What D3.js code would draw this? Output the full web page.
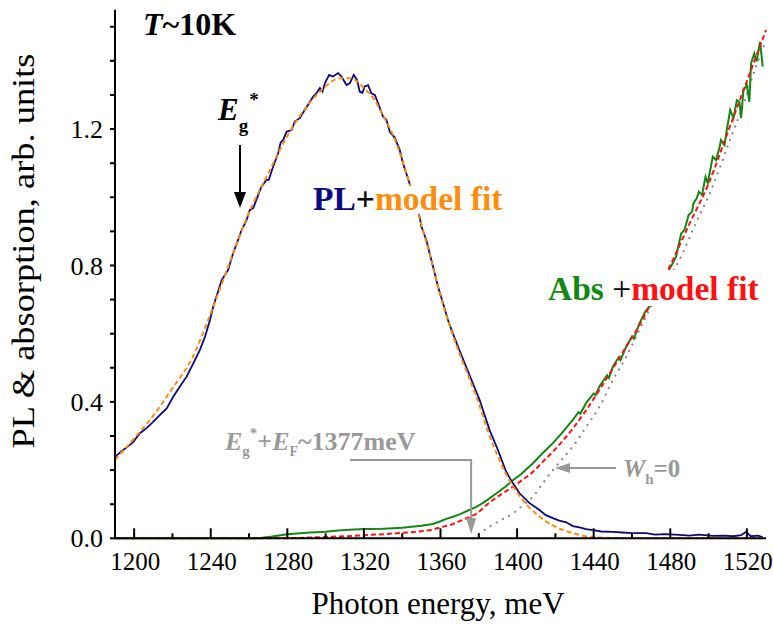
<!DOCTYPE html>
<html>
<head>
<meta charset="utf-8">
<script src="https://cdn.jsdelivr.net/npm/d3@7"></script>
<style>
  body { margin: 0; background: #fff; }
  svg { display: block; }
  svg text { font-family: "Times New Roman", "Liberation Serif", Tinos, "Nimbus Roman", Times, serif; }
</style>
</head>
<body>
<svg id="chart" width="773" height="628"></svg>
<script>
// PL spectrum (measured)
const plEnergy = [1190.0, 1194.3, 1197.8, 1199.6, 1203.0, 1206.5, 1210.0, 1213.5, 1217.0, 1220.4, 1223.9, 1227.4, 1230.9, 1234.3, 1237.0, 1239.6, 1241.3, 1243.5, 1245.7, 1249.1, 1251.7, 1254.3, 1256.1, 1258.7, 1260.4, 1262.2, 1264.8, 1266.5, 1269.1, 1270.3, 1272.6, 1275.2, 1276.5, 1277.8, 1279.6, 1282.2, 1283.9, 1286.5, 1289.1, 1291.8, 1293.5, 1295.2, 1297.0, 1298.4, 1299.6, 1301.8, 1303.9, 1306.5, 1308.3, 1310.9, 1312.6, 1314.7, 1316.4, 1317.8, 1319.2, 1320.4, 1322.2, 1323.9, 1325.7, 1327.4, 1330.0, 1331.8, 1333.5, 1336.1, 1338.7, 1340.4, 1343.0, 1346.0, 1349.1, 1350.0, 1352.6, 1354.3, 1356.1, 1358.7, 1361.3, 1363.9, 1366.5, 1370.0, 1375.2, 1380.4, 1385.6, 1390.0, 1394.3, 1397.3, 1401.3, 1406.5, 1411.7, 1415.0, 1418.7, 1422.0, 1425.7, 1429.1, 1432.6, 1436.0, 1439.6, 1444.0, 1450.0, 1455.0, 1460.0, 1467.4, 1472.0, 1477.0, 1484.8, 1490.0, 1495.0, 1502.2, 1508.0, 1513.0, 1517.0, 1519.6, 1522.0, 1526.0, 1528.3];
const plValue = [0.239, 0.259, 0.274, 0.283, 0.308, 0.323, 0.342, 0.362, 0.381, 0.415, 0.445, 0.474, 0.513, 0.552, 0.591, 0.640, 0.679, 0.718, 0.757, 0.787, 0.836, 0.875, 0.904, 0.933, 0.963, 0.968, 1.007, 1.031, 1.051, 1.051, 1.090, 1.129, 1.160, 1.168, 1.192, 1.197, 1.222, 1.232, 1.256, 1.280, 1.295, 1.305, 1.320, 1.310, 1.334, 1.359, 1.354, 1.364, 1.354, 1.329, 1.334, 1.359, 1.344, 1.310, 1.306, 1.325, 1.329, 1.305, 1.300, 1.276, 1.236, 1.227, 1.192, 1.175, 1.139, 1.100, 1.056, 1.000, 0.943, 0.914, 0.875, 0.836, 0.797, 0.738, 0.689, 0.640, 0.600, 0.550, 0.478, 0.406, 0.318, 0.259, 0.195, 0.166, 0.132, 0.103, 0.083, 0.068, 0.059, 0.052, 0.047, 0.036, 0.032, 0.027, 0.024, 0.020, 0.019, 0.017, 0.015, 0.015, 0.011, 0.012, 0.010, 0.008, 0.011, 0.007, 0.008, 0.006, 0.009, 0.019, 0.006, 0.008, 0.003];

// PL model fit
const plFitEnergy = [1190, 1200, 1210, 1220, 1230, 1240, 1250, 1260, 1270, 1280, 1290, 1300, 1305, 1310, 1315, 1320, 1325, 1330, 1335, 1340, 1345, 1350, 1355, 1360, 1365, 1370, 1375, 1380, 1385, 1390, 1395, 1400, 1405, 1410, 1415, 1420, 1425, 1430, 1435, 1440, 1450, 1460, 1530];
const plFitValue = [0.230, 0.293, 0.360, 0.440, 0.525, 0.660, 0.810, 0.955, 1.070, 1.180, 1.265, 1.325, 1.345, 1.350, 1.345, 1.320, 1.290, 1.240, 1.185, 1.110, 1.020, 0.920, 0.820, 0.710, 0.620, 0.540, 0.470, 0.395, 0.310, 0.240, 0.180, 0.135, 0.098, 0.072, 0.050, 0.034, 0.022, 0.014, 0.007, 0.003, 0.001, 0, 0];

// absorption (measured)
const absEnergy = [1190, 1265, 1272, 1280, 1290, 1300, 1305, 1310, 1320, 1330, 1340, 1345, 1350, 1356, 1360, 1363, 1366.5, 1370, 1375, 1378.7, 1382, 1385.6, 1390, 1394, 1397.8, 1402, 1408.3, 1413, 1418.7, 1423, 1429.1, 1432, 1433, 1436.1, 1440, 1441, 1443, 1447, 1448, 1450, 1453, 1454, 1457, 1460, 1461, 1463.9, 1467, 1469, 1474, 1480.4, 1483.0, 1485.7, 1487.4, 1489.6, 1491.4, 1492.1, 1493.8, 1494.9, 1496.6, 1498.4, 1499.6, 1502.2, 1503.9, 1505.6, 1506.5, 1508.3, 1509.5, 1511.3, 1513.0, 1514.8, 1516.1, 1517.0, 1518.2, 1520.0, 1521.3, 1522.2, 1523.9, 1525.1, 1526.9, 1528.3];
const absValue = [0, 0, 0.005, 0.012, 0.016, 0.019, 0.022, 0.024, 0.027, 0.028, 0.031, 0.034, 0.037, 0.042, 0.050, 0.057, 0.063, 0.070, 0.083, 0.092, 0.103, 0.117, 0.135, 0.152, 0.170, 0.188, 0.220, 0.248, 0.279, 0.306, 0.347, 0.370, 0.365, 0.397, 0.425, 0.420, 0.445, 0.478, 0.470, 0.503, 0.530, 0.522, 0.562, 0.592, 0.585, 0.630, 0.665, 0.679, 0.740, 0.797, 0.826, 0.894, 0.904, 0.948, 0.958, 0.982, 0.997, 1.016, 1.007, 1.060, 1.041, 1.119, 1.109, 1.144, 1.168, 1.153, 1.197, 1.256, 1.232, 1.285, 1.280, 1.232, 1.315, 1.329, 1.280, 1.393, 1.422, 1.398, 1.456, 1.383];

// absorption model fit
const absFitEnergy = [1190, 1280, 1290, 1300, 1310, 1320, 1330, 1340, 1350, 1356, 1360, 1366.5, 1372, 1378.7, 1385.6, 1392, 1397.8, 1403, 1408.3, 1413, 1418.7, 1424, 1429.1, 1436.1, 1443, 1450, 1457, 1463.9, 1470, 1480, 1490, 1500, 1510, 1520, 1530];
const absFitValue = [0, 0, 0.002, 0.004, 0.006, 0.009, 0.012, 0.016, 0.021, 0.026, 0.032, 0.042, 0.055, 0.072, 0.105, 0.130, 0.151, 0.172, 0.195, 0.222, 0.254, 0.287, 0.322, 0.376, 0.435, 0.498, 0.562, 0.625, 0.690, 0.800, 0.922, 1.040, 1.190, 1.340, 1.490];

// W_h = 0 curve
const whEnergy = [1377, 1385.6, 1391, 1397.8, 1403, 1408.3, 1413, 1418.7, 1424, 1429.1, 1436.1, 1443, 1450, 1457, 1463.9, 1470, 1480, 1484.8, 1493, 1502, 1510, 1518, 1526.5, 1530];
const whValue = [0, 0.034, 0.052, 0.073, 0.097, 0.122, 0.158, 0.200, 0.235, 0.269, 0.327, 0.386, 0.464, 0.532, 0.611, 0.680, 0.770, 0.816, 0.920, 1.030, 1.150, 1.270, 1.410, 1.460];

const xMajor = [1200, 1240, 1280, 1320, 1360, 1400, 1440, 1480, 1520];
const xMinor = [1220, 1260, 1300, 1340, 1380, 1420, 1460, 1500];
const yMajor = [0.0, 0.4, 0.8, 1.2];
const yMinor = [0.1, 0.2, 0.3, 0.5, 0.6, 0.7, 0.9, 1.0, 1.1, 1.3, 1.4, 1.5];

const svg = d3.select("#chart");
const x = d3.scaleLinear().domain([1190, 1530]).range([115, 766]);
const y = d3.scaleLinear().domain([0, 1.55]).range([538.3, 9.7]);

const zip = (ex, vs) => ex.map((e, i) => [e, vs[i]]);
const line = d3.line().x(d => x(d[0])).y(d => y(d[1]));
const smooth = d3.line().x(d => x(d[0])).y(d => y(d[1])).curve(d3.curveMonotoneX);

const g = svg.append("g");

// curves
g.append("path").attr("d", smooth(zip(whEnergy, whValue)))
  .attr("fill", "none").attr("stroke", "#8a8a8a").attr("stroke-width", 2.2)
  .attr("stroke-dasharray", "0.1 7").attr("stroke-linecap", "round");
g.append("path").attr("d", line(zip(absEnergy, absValue)))
  .attr("fill", "none").attr("stroke", "#118811").attr("stroke-width", 2);
g.append("path").attr("d", smooth(zip(absFitEnergy, absFitValue)))
  .attr("fill", "none").attr("stroke", "#ff1010").attr("stroke-width", 2)
  .attr("stroke-dasharray", "5 3");
g.append("path").attr("d", line(zip(plEnergy, plValue)))
  .attr("fill", "none").attr("stroke", "#0a0a80").attr("stroke-width", 1.8);
g.append("path").attr("d", smooth(zip(plFitEnergy, plFitValue)))
  .attr("fill", "none").attr("stroke", "#ff8c0a").attr("stroke-width", 2)
  .attr("stroke-dasharray", "5 3");

// axes
const xAxis = svg.append("g").attr("transform", `translate(0,${y(0)})`);
xAxis.append("line").attr("x1", x(1190)).attr("x2", x(1530)).attr("stroke", "#000").attr("stroke-width", 2);
xAxis.selectAll(".maj").data(xMajor).enter().append("line")
  .attr("x1", d => x(d)).attr("x2", d => x(d)).attr("y1", 0).attr("y2", -10)
  .attr("stroke", "#000").attr("stroke-width", 2);
xAxis.selectAll(".min").data(xMinor).enter().append("line")
  .attr("x1", d => x(d)).attr("x2", d => x(d)).attr("y1", 0).attr("y2", -5)
  .attr("stroke", "#000").attr("stroke-width", 2);
xAxis.selectAll(".lbl").data(xMajor).enter().append("text")
  .attr("x", d => x(d) + 1).attr("y", 32).attr("text-anchor", "middle")
  .attr("font-size", 25).text(d => d);

const yAxis = svg.append("g").attr("transform", `translate(${x(1190)},0)`);
yAxis.append("line").attr("y1", y(0)).attr("y2", y(1.55)).attr("stroke", "#000").attr("stroke-width", 2);
yAxis.selectAll(".tk").data(yMajor.concat(yMinor)).enter().append("line")
  .attr("x1", 0).attr("x2", -5).attr("y1", d => y(d)).attr("y2", d => y(d))
  .attr("stroke", "#000").attr("stroke-width", 2);
yAxis.selectAll(".lbl").data(yMajor).enter().append("text")
  .attr("x", -12).attr("y", d => y(d)).attr("dy", "0.35em").attr("text-anchor", "end")
  .attr("font-size", 26).text(d => d3.format(".1f")(d));

// axis titles
svg.append("text").attr("x", 438).attr("y", 614).attr("text-anchor", "middle")
  .attr("font-size", 31).text("Photon energy, meV");
svg.append("text").attr("transform", "translate(34,251) rotate(-90)").attr("text-anchor", "middle")
  .attr("font-size", 31).attr("textLength", 395).attr("lengthAdjust", "spacingAndGlyphs")
  .text("PL & absorption, arb. units");

// temperature
const tt = svg.append("text").attr("x", 143).attr("y", 35).attr("font-size", 32).attr("font-weight", "bold");
tt.append("tspan").attr("font-style", "italic").text("T");
tt.append("tspan").text("~10K");

// Eg* marker
const eg = svg.append("text").attr("x", 218).attr("y", 120).attr("font-weight", "bold");
eg.append("tspan").attr("font-size", 31).attr("font-style", "italic").text("E");
eg.append("tspan").attr("font-size", 19).attr("dy", 12).text("g");
eg.append("tspan").attr("font-size", 19).attr("dy", -26).attr("dx", 1).text("*");
svg.append("line").attr("x1", 240).attr("x2", 240).attr("y1", 145).attr("y2", 195)
  .attr("stroke", "#000").attr("stroke-width", 2);
svg.append("path").attr("d", "M234,192 L246,192 L240,208 Z").attr("fill", "#000");

// PL label
svg.append("rect").attr("x", 310).attr("y", 186).attr("width", 198).attr("height", 28).attr("fill", "#fff");
const pl = svg.append("text").attr("x", 313).attr("y", 210).attr("font-size", 33.5).attr("font-weight", "bold");
pl.append("tspan").attr("fill", "#0a0a80").text("PL");
pl.append("tspan").attr("fill", "#000").text("+");
pl.append("tspan").attr("fill", "#ff8c0a").text("model fit");

// Abs label
svg.append("rect").attr("x", 544).attr("y", 270).attr("width", 220).attr("height", 36).attr("fill", "#fff");
const ab = svg.append("text").attr("x", 548).attr("y", 300).attr("font-size", 33.5).attr("font-weight", "bold");
ab.append("tspan").attr("fill", "#118811").text("Abs ");
ab.append("tspan").attr("fill", "#000").attr("font-weight", "normal").text("+");
ab.append("tspan").attr("fill", "#ff1010").text("model fit");

// Eg*+EF annotation
const grey = "#999";
const ef = svg.append("text").attr("x", 225).attr("y", 450).attr("font-weight", "bold").attr("fill", grey);
ef.append("tspan").attr("font-size", 26).attr("font-style", "italic").text("E");
ef.append("tspan").attr("font-size", 15).attr("dy", 6).text("g");
ef.append("tspan").attr("font-size", 15).attr("dy", -18).text("*");
ef.append("tspan").attr("font-size", 26).attr("dy", 12).text("+");
ef.append("tspan").attr("font-size", 26).attr("font-style", "italic").text("E");
ef.append("tspan").attr("font-size", 14).attr("dy", 6).text("F");
ef.append("tspan").attr("font-size", 26).attr("dy", -6).text("~1377meV");
svg.append("path").attr("d", `M350,460 H${x(1376)} V522`).attr("fill", "none").attr("stroke", grey).attr("stroke-width", 2);
svg.append("path").attr("d", `M${x(1376) - 5},518 L${x(1376) + 5},518 L${x(1376)},534 Z`).attr("fill", grey);

// W_h = 0 annotation
const wh = svg.append("text").attr("x", 623).attr("y", 477).attr("font-weight", "bold").attr("fill", grey);
wh.append("tspan").attr("font-size", 25).attr("font-style", "italic").text("W");
wh.append("tspan").attr("font-size", 15).attr("dy", 7).text("h");
wh.append("tspan").attr("font-size", 25).attr("dy", -7).text("=0");
svg.append("line").attr("x1", 616).attr("x2", 568).attr("y1", 468).attr("y2", 468).attr("stroke", grey).attr("stroke-width", 2);
svg.append("path").attr("d", "M555,468 L570,463 L570,473 Z").attr("fill", grey);
</script>
</body>
</html>
